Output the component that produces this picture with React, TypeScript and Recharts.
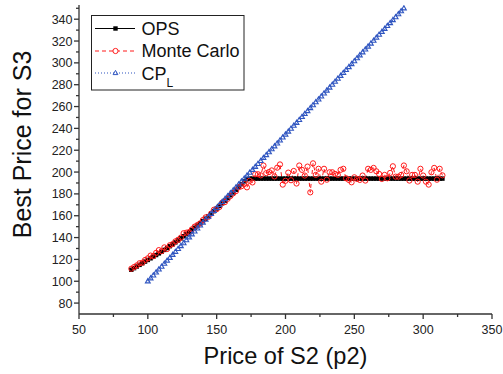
import React from 'react';
import { LineChart, Line, XAxis, YAxis, Legend } from 'recharts';

// Price of S2 grid (shared x values)
const p2Grid = [
  88, 90, 92, 94, 96, 98, 100, 102, 104, 106, 108, 110, 112, 114, 116, 118, 120, 122, 124, 126,
  128, 130, 132, 134, 136, 138, 140, 142, 144, 146, 148, 150, 152, 154, 156, 158, 160, 162, 164, 166,
  168, 170, 172, 174, 176, 178, 180, 182, 184, 186, 188, 190, 192, 194, 196, 198, 200, 202, 204, 206,
  208, 210, 212, 214, 216, 218, 220, 222, 224, 226, 228, 230, 232, 234, 236, 238, 240, 242, 244, 246,
  248, 250, 252, 254, 256, 258, 260, 262, 264, 266, 268, 270, 272, 274, 276, 278, 280, 282, 284, 286,
  288, 290, 292, 294, 296, 298, 300, 302, 304, 306, 308, 310, 312, 314,
];

// OPS best price
const opsPrice = [
  110.5, 112, 113.5, 115, 116.5, 118, 119.5, 121, 122.5, 124, 125.5, 127, 128.7, 130.4, 132.1, 133.8,
  135.6, 137.4, 139.3, 141.2, 143.1, 145, 147, 149, 151, 153, 155.1, 157.3, 159.6, 161.9, 164.2, 166.6,
  169, 171.4, 173.8, 176.3, 178.8, 181.3, 183.8, 186.4, 189, 191.5, 193.5,
  194, 194, 194, 194, 194, 194, 194, 194, 194, 194,
  194, 194, 194, 194, 194, 194, 194, 194, 194, 194,
  194, 194, 194, 194, 194, 194, 194, 194, 194, 194,
  194, 194, 194, 194, 194, 194, 194, 194, 194, 194,
  194, 194, 194, 194, 194, 194, 194, 194, 194, 194,
  194, 194, 194, 194, 194, 194, 194, 194, 194, 194,
  194, 194, 194, 194, 194, 194, 194, 194, 194, 194,
  194,
];

// Monte Carlo best price
const monteCarloPrice = [
  111.5, 113, 114.5, 116.5, 117, 119.5, 121, 123.5, 123, 126, 128.5, 127.5, 131, 129.5, 133, 134,
  136.5, 138, 140, 144, 144.5, 145, 147.5, 150, 151.5, 153, 156, 158.5, 159, 162, 165.5, 166,
  168, 172, 172.5, 175.5, 178, 180.5, 182.5, 186, 187, 189, 186, 192, 190.5, 198, 198, 197,
  206, 199, 200, 201.5, 196, 204, 207, 188.5, 192, 199.5, 192.5, 201, 189.5,
  206, 202, 196.8, 205, 181.4, 208, 197.4, 203, 191.2, 203, 193, 199.8, 199.8, 198.3, 197.4, 202,
  203, 194.3, 192.8, 190.6, 195.2, 193.7, 192.8, 196.8, 192.2, 203, 202, 203.8, 200.7, 198.3, 193.7,
  197.4, 194.3, 199.2, 205.3, 195.8, 195.8, 197.4, 206, 200.7, 192.2, 197.4, 197.4, 191.2, 203,
  196.8, 191.2, 188.5, 199.8, 203.8, 193, 203, 197,
];

// CP_L grid and price
const cplGrid = [
  100, 102, 104, 106, 108, 110, 112, 114, 116, 118, 120, 122, 124, 126, 128, 130, 132, 134, 136, 138,
  140, 142, 144, 146, 148, 150, 152, 154, 156, 158, 160, 162, 164, 166, 168, 170, 172, 174, 176, 178,
  180, 182, 184, 186, 188, 190, 192, 194, 196, 198, 200, 202, 204, 206, 208, 210, 212, 214, 216, 218,
  220, 222, 224, 226, 228, 230, 232, 234, 236, 238, 240, 242, 244, 246, 248, 250, 252, 254, 256, 258,
  260, 262, 264, 266, 268, 270, 272, 274, 276, 278, 280, 282, 284, 286,
];
const cplPrice = [
  100.0, 102.7, 105.4, 108.1, 110.8, 113.4, 116.1, 118.8, 121.5, 124.2, 126.9, 129.6, 132.3, 134.9,
  137.6, 140.3, 143.0, 145.7, 148.4, 151.1, 153.8, 156.4, 159.1, 161.8, 164.5, 167.2, 169.9, 172.6,
  175.3, 177.9, 180.6, 183.3, 186.0, 188.7, 191.4, 194.1, 196.8, 199.5, 202.1, 204.8, 207.5, 210.2,
  212.9, 215.6, 218.3, 221.0, 223.6, 226.3, 229.0, 231.7, 234.4, 237.1, 239.8, 242.5, 245.1, 247.8,
  250.5, 253.2, 255.9, 258.6, 261.3, 264.0, 266.6, 269.3, 272.0, 274.7, 277.4, 280.1, 282.8, 285.5,
  288.2, 290.8, 293.5, 296.2, 298.9, 301.6, 304.3, 307.0, 309.7, 312.3, 315.0, 317.7, 320.4, 323.1,
  325.8, 328.5, 331.2, 333.8, 336.5, 339.2, 341.9, 344.6, 347.3, 350.0,
];

const xTicks = [50, 75, 100, 125, 150, 175, 200, 225, 250, 275, 300, 325, 350];
const xMajor = [50, 100, 150, 200, 250, 300, 350];
const yTicks = [80, 90, 100, 110, 120, 130, 140, 150, 160, 170, 180, 190, 200, 210, 220, 230, 240, 250, 260, 270, 280, 290, 300, 310, 320, 330, 340, 350];
const yMajor = [80, 100, 120, 140, 160, 180, 200, 220, 240, 260, 280, 300, 320, 340];

const opsData = p2Grid.map((x, i) => ({ x, y: opsPrice[i] }));
const mcData = p2Grid.map((x, i) => ({ x, y: monteCarloPrice[i] }));
const cplData = cplGrid.map((x, i) => ({ x, y: cplPrice[i] }));

const FONT = '"Liberation Sans", Arial, sans-serif';
const AXIS = '#333';
const RED = '#ff1a1a';
const BLUE = '#2f55c0';

const XTick = (props: any) => {
  const { x, y, payload } = props;
  const major = xMajor.includes(payload.value);
  return (
    <g>
      <line x1={x} y1={y} x2={x} y2={y + (major ? 5 : 3)} stroke={AXIS} strokeWidth={1.3} />
      {major && (
        <text x={x} y={y + 20} textAnchor="middle" fontSize={12.5} fill="#222" fontFamily={FONT}>
          {payload.value}
        </text>
      )}
    </g>
  );
};

const YTick = (props: any) => {
  const { x, y, payload } = props;
  const major = yMajor.includes(payload.value);
  return (
    <g>
      <line x1={x} y1={y} x2={x - (major ? 5 : 3)} y2={y} stroke={AXIS} strokeWidth={1.3} />
      {major && (
        <text x={x - 6.5} y={y + 4.5} textAnchor="end" fontSize={12.5} fill="#222" fontFamily={FONT}>
          {payload.value}
        </text>
      )}
    </g>
  );
};

const squareDot = (p: any) => (
  <rect key={'o' + p.index} x={p.cx - 2.2} y={p.cy - 2.2} width={4.4} height={4.4} fill="#000" />
);
const circleDot = (p: any) => (
  <circle key={'m' + p.index} cx={p.cx} cy={p.cy} r={2.6} fill="none" stroke={RED} strokeWidth={1} />
);
const triDot = (p: any) => (
  <polygon
    key={'c' + p.index}
    points={`${p.cx},${p.cy - 2.6} ${p.cx - 2.4},${p.cy + 1.6} ${p.cx + 2.4},${p.cy + 1.6}`}
    fill="none"
    stroke={BLUE}
    strokeWidth={1.1}
  />
);

const LegendBox = () => (
  <svg width={156} height={78} style={{ display: 'block' }}>
    <rect x={0.5} y={0.5} width={152.5} height={74.5} fill="#fff" stroke="#222" strokeWidth={1} />
    <line x1={4} y1={13.5} x2={44} y2={13.5} stroke="#000" strokeWidth={1.2} />
    <rect x={22.3} y={11.3} width={4.4} height={4.4} fill="#000" />
    <text x={50.5} y={20} fontSize={18} fontFamily={FONT} fill="#111">OPS</text>
    <line x1={4} y1={36} x2={44} y2={36} stroke={RED} strokeWidth={1} strokeDasharray="4 3" />
    <circle cx={24.5} cy={36} r={2.6} fill="#fff" stroke={RED} strokeWidth={1} />
    <text x={50.5} y={42} fontSize={18} fontFamily={FONT} fill="#111">Monte Carlo</text>
    <line x1={4} y1={58} x2={44} y2={58} stroke={BLUE} strokeWidth={1.2} strokeDasharray="1 2" />
    <polygon points="24.5,55.4 22.1,59.6 26.9,59.6" fill="none" stroke={BLUE} strokeWidth={1} />
    <text x={50.5} y={64.5} fontSize={18} fontFamily={FONT} fill="#111">
      CP<tspan fontSize={12} dy={7}>L</tspan>
    </text>
  </svg>
);

export default function App() {
  return (
    <div style={{ position: 'absolute', left: 0, top: 0 }}>
      <LineChart width={503} height={374} margin={{ top: 5, right: 11, bottom: 0, left: 0 }}>
        <XAxis
          type="number"
          dataKey="x"
          domain={[50, 350]}
          ticks={xTicks}
          interval={0}
          allowDataOverflow
          height={60}
          tickSize={0}
          tickMargin={0}
          tickLine={false}
          tick={<XTick />}
          axisLine={{ stroke: AXIS, strokeWidth: 1.3 }}
          label={(props: any) => {
            const vb = props.viewBox || { x: 79, y: 314, width: 412 };
            return (
              <text x={vb.x + vb.width / 2} y={vb.y + 50} textAnchor="middle" fontSize={23.6} fontFamily={FONT} fill="#111">
                Price of S2 (p2)
              </text>
            );
          }}
        />
        <YAxis
          type="number"
          dataKey="y"
          domain={[70, 353]}
          ticks={yTicks}
          interval={0}
          allowDataOverflow
          width={79}
          tickSize={0}
          tickMargin={0}
          tickLine={false}
          tick={<YTick />}
          axisLine={{ stroke: AXIS, strokeWidth: 1.3 }}
          label={() => (
            <text x={30.5} y={144.5} transform="rotate(-90, 30.5, 144.5)" textAnchor="middle" fontSize={25} fontFamily={FONT} fill="#111">
              Best Price for S3
            </text>
          )}
        />
        <Legend
          layout="vertical"
          align="center"
          verticalAlign="middle"
          content={() => <LegendBox />}
          wrapperStyle={{ left: 91, top: 15, width: 156, height: 78 }}
        />
        <Line
          data={opsData}
          dataKey="y"
          name="OPS"
          stroke="#000"
          strokeWidth={1.2}
          dot={squareDot}
          activeDot={false}
          isAnimationActive={false}
        />
        <Line
          data={mcData}
          dataKey="y"
          name="Monte Carlo"
          stroke={RED}
          strokeWidth={1}
          strokeDasharray="4 3"
          dot={circleDot}
          activeDot={false}
          isAnimationActive={false}
        />
        <Line
          data={cplData}
          dataKey="y"
          name="CP_L"
          stroke={BLUE}
          strokeWidth={1.2}
          strokeDasharray="1 2"
          dot={triDot}
          activeDot={false}
          isAnimationActive={false}
        />
      </LineChart>
    </div>
  );
}
